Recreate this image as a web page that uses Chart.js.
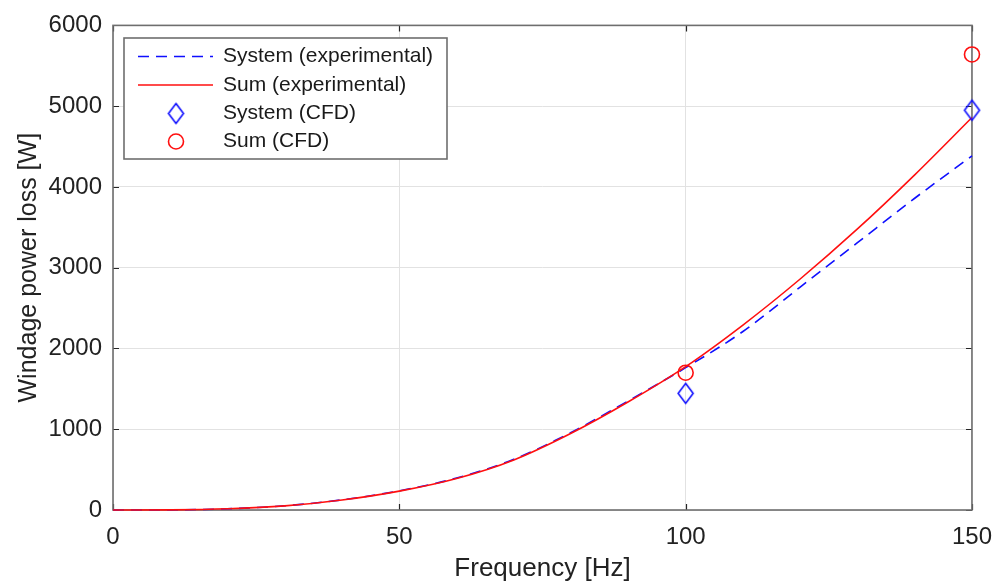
<!DOCTYPE html>
<html>
<head>
<meta charset="utf-8">
<script src="https://cdn.jsdelivr.net/npm/chart.js@4/dist/chart.umd.min.js"></script>
<style>
html,body{margin:0;padding:0;background:#fff;}
#wrap{width:1005px;height:582px;}
</style>
</head>
<body>
<div id="wrap"><canvas id="c" width="1005" height="582"></canvas></div>
<script>
// ---- data ----
const freq = [0, 10, 20, 30, 40, 50, 60, 70, 80, 90, 100, 110, 120, 130, 140, 150];
const systemExp = [0, 2, 15, 52, 126, 238, 396, 628, 960, 1352, 1762, 2210, 2760, 3310, 3860, 4385];
const sumExp    = [0, 2, 15, 51, 124, 234, 390, 620, 950, 1340, 1775, 2290, 2860, 3480, 4150, 4860];
const cfdFreq = [100, 150];
const systemCFD = [1444, 4950];
const sumCFD = [1700, 5640];
const xTicks = [0, 50, 100, 150];
const yTicks = [0, 1000, 2000, 3000, 4000, 5000, 6000];
const labels = ['System (experimental)', 'Sum (experimental)', 'System (CFD)', 'Sum (CFD)'];

const BLUE = 'rgb(15,15,255)';
const RED = 'rgb(255,15,15)';
const FONT = '"Liberation Sans", Arial, Helvetica, sans-serif';

function pts(xs, ys){ return xs.map((x,i)=>({x:x, y:ys[i]})); }

function makeDiamond(){
  const c = document.createElement('canvas');
  c.width = 19; c.height = 25;
  const g = c.getContext('2d');
  g.strokeStyle = BLUE; g.lineWidth = 1.6;
  g.beginPath();
  g.moveTo(9.5, 2.5); g.lineTo(17, 12.5); g.lineTo(9.5, 22.5); g.lineTo(2, 12.5); g.closePath();
  g.stroke();
  return c;
}
const diamond = makeDiamond();

const framePlugin = {
  id: 'frame',
  beforeDatasetsDraw(chart){
    const {ctx, chartArea:a, scales:{x, y}} = chart;
    ctx.save();
    ctx.strokeStyle = '#262626';
    ctx.lineWidth = 1.2;
    ctx.beginPath();
    const tl = 6;
    xTicks.forEach(v=>{
      const px = Math.round(x.getPixelForValue(v)) + 0.5;
      ctx.moveTo(px, a.bottom); ctx.lineTo(px, a.bottom - tl);
      ctx.moveTo(px, a.top); ctx.lineTo(px, a.top + tl);
    });
    yTicks.forEach(v=>{
      const py = Math.round(y.getPixelForValue(v)) + 0.5;
      ctx.moveTo(a.left, py); ctx.lineTo(a.left + tl, py);
      ctx.moveTo(a.right, py); ctx.lineTo(a.right - tl, py);
    });
    ctx.stroke();
    ctx.strokeStyle = '#6e6e6e';
    ctx.lineWidth = 1.6;
    ctx.strokeRect(a.left, a.top, a.right - a.left, a.bottom - a.top);
    ctx.restore();
  }
};

const legendPlugin = {
  id: 'boxLegend',
  afterDatasetsDraw(chart){
    const ctx = chart.ctx;
    const bx = 124, by = 38, bw = 323, bh = 121;
    ctx.save();
    ctx.fillStyle = '#fff';
    ctx.fillRect(bx, by, bw, bh);
    ctx.strokeStyle = '#6e6e6e';
    ctx.lineWidth = 1.6;
    ctx.strokeRect(bx, by, bw, bh);
    const rows = [56.5, 85, 113.5, 141.5];
    const x0 = 138, x1 = 213, xm = 176, tx = 223;
    ctx.lineWidth = 1.6;
    ctx.strokeStyle = BLUE;
    ctx.setLineDash([11, 7]);
    ctx.beginPath(); ctx.moveTo(x0, rows[0]); ctx.lineTo(x1, rows[0]); ctx.stroke();
    ctx.setLineDash([]);
    ctx.strokeStyle = RED;
    ctx.beginPath(); ctx.moveTo(x0, rows[1]); ctx.lineTo(x1, rows[1]); ctx.stroke();
    ctx.drawImage(diamond, xm - diamond.width/2, rows[2] - diamond.height/2);
    ctx.strokeStyle = RED;
    ctx.beginPath(); ctx.arc(xm, rows[3], 7.5, 0, Math.PI*2); ctx.stroke();
    ctx.fillStyle = '#1a1a1a';
    ctx.font = '21px ' + FONT;
    ctx.textBaseline = 'middle';
    ctx.textAlign = 'left';
    labels.forEach((t,i)=>ctx.fillText(t, tx, rows[i]));
    ctx.restore();
  }
};

new Chart(document.getElementById('c'), {
  type: 'scatter',
  data: {
    datasets: [
      { label: labels[0], type: 'line', data: pts(freq, systemExp), borderColor: BLUE, borderWidth: 1.6,
        borderDash: [11, 7], pointRadius: 0, fill: false, cubicInterpolationMode: 'monotone', order: 4, clip: false },
      { label: labels[1], type: 'line', data: pts(freq, sumExp), borderColor: RED, borderWidth: 1.6,
        pointRadius: 0, fill: false, cubicInterpolationMode: 'monotone', order: 3, clip: false },
      { label: labels[2], data: pts(cfdFreq, systemCFD), pointStyle: diamond, pointRadius: 10,
        borderColor: BLUE, backgroundColor: 'rgba(0,0,0,0)', order: 2, clip: false },
      { label: labels[3], data: pts(cfdFreq, sumCFD), pointStyle: 'circle', pointRadius: 7.5, borderWidth: 1.6,
        borderColor: RED, backgroundColor: 'rgba(0,0,0,0)', order: 1, clip: false }
    ]
  },
  options: {
    responsive: false,
    animation: false,
    devicePixelRatio: 1,
    layout: { padding: { top: 24, right: 33, bottom: 0, left: 0 } },
    plugins: { legend: { display: false }, tooltip: { enabled: false } },
    scales: {
      x: {
        type: 'linear', min: 0, max: 150,
        afterBuildTicks: s => { s.ticks = xTicks.map(v=>({value:v})); },
        afterFit: s => { s.height = 72; },
        grid: { color: '#e2e2e2', lineWidth: 1, drawTicks: false },
        border: { display: false },
        ticks: { padding: 13, color: '#222', font: { family: FONT, size: 24 }, callback: v => String(v) },
        title: { display: true, text: 'Frequency [Hz]', color: '#222', padding: { top: 0, bottom: 0 },
                 font: { family: FONT, size: 26, lineHeight: 1 } }
      },
      y: {
        type: 'linear', min: 0, max: 6000,
        afterBuildTicks: s => { s.ticks = yTicks.map(v=>({value:v})); },
        afterFit: s => { s.width = 113; },
        grid: { color: '#e2e2e2', lineWidth: 1, drawTicks: false },
        border: { display: false },
        ticks: { padding: 11, color: '#222', font: { family: FONT, size: 24 }, callback: v => String(v) },
        title: { display: true, text: 'Windage power loss [W]', color: '#222', padding: { top: 17, bottom: 0 },
                 font: { family: FONT, size: 25, lineHeight: 1 } }
      }
    }
  },
  plugins: [framePlugin, legendPlugin]
});
</script>
</body>
</html>
